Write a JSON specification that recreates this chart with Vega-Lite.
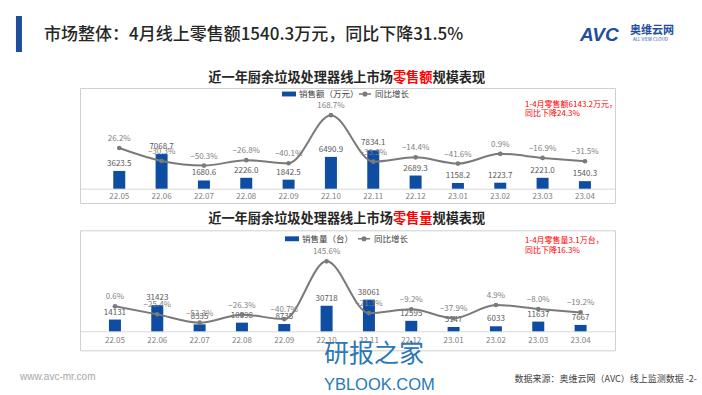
{
  "$schema": "https://vega.github.io/schema/vega-lite/v6.json",
  "background": "white",
  "padding": {"left": 14, "top": 14, "right": 0, "bottom": 0},
  "bounds": "flush",
  "spacing": 27.3,
  "config": {
    "font": "Noto Sans CJK SC",
    "view": {"stroke": "#d0d0d0", "strokeWidth": 1},
    "axis": {"labelFont": "Noto Sans CJK SC", "labelFontSize": 8, "labelColor": "#7f7f7f", "domainColor": "#d9d9d9", "ticks": false, "title": null, "labelAngle": 0, "grid": false},
    "legend": {"labelFont": "Noto Sans CJK SC", "labelFontSize": 8.5, "labelColor": "#404040", "padding": 0, "offset": 0, "title": null, "labelOffset": 3}
  },
  "datasets": {
    "sales": [
      {"month": "22.05", "amount": 3623.5, "yoy": 0.262},
      {"month": "22.06", "amount": 7068.7, "yoy": -0.303},
      {"month": "22.07", "amount": 1680.6, "yoy": -0.503},
      {"month": "22.08", "amount": 2226.0, "yoy": -0.268},
      {"month": "22.09", "amount": 1842.5, "yoy": -0.401},
      {"month": "22.10", "amount": 6490.9, "yoy": 1.687},
      {"month": "22.11", "amount": 7834.1, "yoy": -0.333},
      {"month": "22.12", "amount": 2689.3, "yoy": -0.144},
      {"month": "23.01", "amount": 1158.2, "yoy": -0.416},
      {"month": "23.02", "amount": 1223.7, "yoy": 0.009},
      {"month": "23.03", "amount": 2221.0, "yoy": -0.169},
      {"month": "23.04", "amount": 1540.3, "yoy": -0.315}
    ],
    "volume": [
      {"month": "22.05", "qty": 14131, "yoy": 0.006},
      {"month": "22.06", "qty": 31423, "yoy": -0.254},
      {"month": "22.07", "qty": 8335, "yoy": -0.523},
      {"month": "22.08", "qty": 10398, "yoy": -0.263},
      {"month": "22.09", "qty": 8735, "yoy": -0.407},
      {"month": "22.10", "qty": 30718, "yoy": 1.456},
      {"month": "22.11", "qty": 38061, "yoy": -0.213},
      {"month": "22.12", "qty": 12595, "yoy": -0.092},
      {"month": "23.01", "qty": 5147, "yoy": -0.379},
      {"month": "23.02", "qty": 6033, "yoy": 0.049},
      {"month": "23.03", "qty": 11637, "yoy": -0.080},
      {"month": "23.04", "qty": 7667, "yoy": -0.192}
    ],
    "one": [{"id": 1}]
  },
  "resolve": {
    "scale": {"x": "independent", "y": "independent", "fill": "independent", "stroke": "independent"},
    "legend": {"fill": "independent", "stroke": "independent"}
  },
  "vconcat": [
    {
      "width": 535,
      "height": 115,
      "layer": [
        {
          "layer": [
            {
              "data": {"name": "sales"},
              "mark": {"type": "bar", "size": 12},
              "encoding": {
                "x": {"field": "month", "type": "ordinal", "scale": {"paddingInner": 0, "paddingOuter": 0.319, "align": 0.67}, "axis": {"offset": -14.3, "labelPadding": 4}},
                "y": {"field": "amount", "type": "quantitative", "scale": {"domain": [-2918, 20551], "nice": false, "zero": false}, "axis": null},
                "fill": {"datum": "销售额（万元）", "type": "nominal", "scale": {"range": ["#0e4da1"]},
                  "legend": {"orient": "none", "legendX": 202, "legendY": -1, "symbolType": "M-1,-0.35H1V0.35H-1Z", "symbolSize": 196, "symbolStrokeWidth": 0}}
              }
            },
            {
              "data": {"name": "sales"},
              "mark": {"type": "text", "baseline": "bottom", "dy": -3, "fontSize": 8, "color": "#595959"},
              "encoding": {
                "x": {"field": "month", "type": "ordinal"},
                "y": {"field": "amount", "type": "quantitative"},
                "text": {"field": "amount", "type": "quantitative", "format": ".1f"}
              }
            },
            {
              "data": {"name": "one"},
              "mark": {"type": "rule", "strokeWidth": 6, "strokeCap": "square", "color": "#1f4e9c", "xOffset": -100.3},
              "encoding": {"x": {"datum": "22.05", "type": "ordinal"}, "y": {"datum": 34633, "type": "quantitative"}, "y2": {"datum": 28510}}
            },
            {
              "data": {"name": "one"},
              "mark": {"type": "text", "text": "市场整体：4月线上零售额1540.3万元，同比下降31.5%", "align": "left", "baseline": "middle", "dx": -75.3, "fontSize": 17, "fontWeight": 500, "color": "#262626"},
              "encoding": {"x": {"datum": "22.05", "type": "ordinal"}, "y": {"datum": 31367, "type": "quantitative"}}
            },
            {
              "data": {"name": "one"},
              "mark": {"type": "text", "text": "AVC", "align": "left", "baseline": "middle", "dx": -4.9, "fontSize": 19, "fontWeight": "bold", "fontStyle": "italic", "font": "Liberation Sans", "color": "#1f4e9c"},
              "encoding": {"x": {"datum": "23.04", "type": "ordinal"}, "y": {"datum": 31367, "type": "quantitative"}}
            },
            {
              "data": {"name": "one"},
              "mark": {"type": "text", "text": "奥维云网", "align": "left", "baseline": "middle", "dx": 45, "fontSize": 11, "fontWeight": "bold", "color": "#1f4e9c"},
              "encoding": {"x": {"datum": "23.04", "type": "ordinal"}, "y": {"datum": 32184, "type": "quantitative"}}
            },
            {
              "data": {"name": "one"},
              "mark": {"type": "text", "text": "ALL VIEW CLOUD", "align": "left", "baseline": "middle", "dx": 48, "fontSize": 4.5, "color": "#1f4e9c"},
              "encoding": {"x": {"datum": "23.04", "type": "ordinal"}, "y": {"datum": 30347, "type": "quantitative"}}
            },
            {
              "data": {"name": "one"},
              "mark": {"type": "text", "text": "近一年厨余垃圾处理器线上市场", "align": "right", "baseline": "middle", "dx": -22.7, "fontSize": 13.2, "fontWeight": "bold", "color": "#262626"},
              "encoding": {"x": {"datum": "22.12", "type": "ordinal"}, "y": {"datum": 22592, "type": "quantitative"}}
            },
            {
              "data": {"name": "one"},
              "mark": {"type": "text", "text": "零售额", "align": "center", "baseline": "middle", "dx": -2.9, "fontSize": 13.2, "fontWeight": "bold", "color": "#ff0000"},
              "encoding": {"x": {"datum": "22.12", "type": "ordinal"}, "y": {"datum": 22592, "type": "quantitative"}}
            },
            {
              "data": {"name": "one"},
              "mark": {"type": "text", "text": "规模表现", "align": "left", "baseline": "middle", "dx": 16.9, "fontSize": 13.2, "fontWeight": "bold", "color": "#262626"},
              "encoding": {"x": {"datum": "22.12", "type": "ordinal"}, "y": {"datum": 22592, "type": "quantitative"}}
            },
            {
              "data": {"name": "one"},
              "mark": {"type": "text", "text": ["1-4月零售额6143.2万元，", "同比下降24.3%"], "align": "left", "baseline": "top", "dx": 24.7, "fontSize": 8, "lineHeight": 9.5, "color": "#ff0000"},
              "encoding": {"x": {"datum": "23.02", "type": "ordinal"}, "y": {"datum": 17898, "type": "quantitative"}}
            }
          ]
        },
        {
          "data": {"name": "sales"},
          "encoding": {
            "x": {"field": "month", "type": "ordinal"},
            "y": {"field": "yoy", "type": "quantitative", "scale": {"domain": [-2.13, 2.87], "nice": false, "zero": false}, "axis": null}
          },
          "layer": [
            {
              "mark": {"type": "line", "interpolate": "monotone", "strokeWidth": 2},
              "encoding": {
                "stroke": {"datum": "同比增长", "type": "nominal", "scale": {"range": ["#7a7a7a"]},
                  "legend": {"orient": "none", "legendX": 278, "legendY": -1, "symbolType": "M-1,0H1M-0.3,0A0.3,0.3,0,1,1,0.3,0A0.3,0.3,0,1,1,-0.3,0", "symbolSize": 144, "symbolStrokeWidth": 1.5, "symbolFillColor": "#7a7a7a"}}
              }
            },
            {
              "mark": {"type": "circle", "size": 22, "color": "#7a7a7a", "opacity": 1}
            },
            {
              "mark": {"type": "text", "baseline": "bottom", "dy": -5, "fontSize": 8, "color": "#7f7f7f"},
              "encoding": {"text": {"field": "yoy", "type": "quantitative", "format": ".1%"}}
            }
          ]
        }
      ],
      "resolve": {"scale": {"y": "independent"}}
    },
    {
      "width": 535,
      "height": 120,
      "layer": [
        {
          "layer": [
            {
              "data": {"name": "volume"},
              "mark": {"type": "bar", "size": 12},
              "encoding": {
                "x": {"field": "month", "type": "ordinal", "scale": {"paddingInner": 0, "paddingOuter": 0.319, "align": 0.51}, "axis": {"offset": -19, "labelPadding": 5}},
                "y": {"field": "qty", "type": "quantitative", "scale": {"domain": [-22836, 121394], "nice": false, "zero": false}, "axis": null},
                "fill": {"datum": "销售量（台）", "type": "nominal", "scale": {"range": ["#0e4da1"]},
                  "legend": {"orient": "none", "legendX": 205, "legendY": 1.5, "symbolType": "M-1,-0.35H1V0.35H-1Z", "symbolSize": 196, "symbolStrokeWidth": 0}}
              }
            },
            {
              "data": {"name": "volume"},
              "mark": {"type": "text", "baseline": "bottom", "dy": -3, "fontSize": 8, "color": "#595959"},
              "encoding": {
                "x": {"field": "month", "type": "ordinal"},
                "y": {"field": "qty", "type": "quantitative"},
                "text": {"field": "qty", "type": "quantitative", "format": "d"}
              }
            },
            {
              "data": {"name": "one"},
              "mark": {"type": "text", "text": "近一年厨余垃圾处理器线上市场", "align": "right", "baseline": "middle", "dx": -18.4, "fontSize": 13.2, "fontWeight": "bold", "color": "#262626"},
              "encoding": {"x": {"datum": "22.12", "type": "ordinal"}, "y": {"datum": 135337, "type": "quantitative"}}
            },
            {
              "data": {"name": "one"},
              "mark": {"type": "text", "text": "零售量", "align": "center", "baseline": "middle", "dx": 1.4, "fontSize": 13.2, "fontWeight": "bold", "color": "#ff0000"},
              "encoding": {"x": {"datum": "22.12", "type": "ordinal"}, "y": {"datum": 135337, "type": "quantitative"}}
            },
            {
              "data": {"name": "one"},
              "mark": {"type": "text", "text": "规模表现", "align": "left", "baseline": "middle", "dx": 21.2, "fontSize": 13.2, "fontWeight": "bold", "color": "#262626"},
              "encoding": {"x": {"datum": "22.12", "type": "ordinal"}, "y": {"datum": 135337, "type": "quantitative"}}
            },
            {
              "data": {"name": "one"},
              "mark": {"type": "text", "text": ["1-4月零售量3.1万台，", "同比下降16.3%"], "align": "left", "baseline": "top", "dx": 29, "fontSize": 8, "lineHeight": 9.5, "color": "#ff0000"},
              "encoding": {"x": {"datum": "23.02", "type": "ordinal"}, "y": {"datum": 113341, "type": "quantitative"}}
            },
            {
              "data": {"name": "one"},
              "mark": {"type": "text", "text": "www.avc-mr.com", "align": "left", "baseline": "middle", "dx": -95, "fontSize": 10, "font": "Liberation Sans", "color": "#a6a6a6"},
              "encoding": {"x": {"datum": "22.05", "type": "ordinal"}, "y": {"datum": -55000, "type": "quantitative"}}
            },
            {
              "data": {"name": "one"},
              "mark": {"type": "text", "text": "数据来源：奥维云网（AVC）线上监测数据  -2-", "align": "right", "baseline": "middle", "dx": 116.4, "fontSize": 9, "color": "#404040"},
              "encoding": {"x": {"datum": "23.04", "type": "ordinal"}, "y": {"datum": -57332, "type": "quantitative"}}
            },
            {
              "data": {"name": "one"},
              "mark": {"type": "text", "text": "研报之家", "align": "left", "baseline": "middle", "dx": -2.7, "fontSize": 25, "color": "#2a78b5"},
              "encoding": {"x": {"datum": "22.10", "type": "ordinal"}, "y": {"datum": -27284, "type": "quantitative"}}
            },
            {
              "data": {"name": "one"},
              "mark": {"type": "text", "text": "YBLOOK.COM", "align": "left", "baseline": "middle", "dx": -2.7, "fontSize": 16.5, "font": "Liberation Sans", "color": "#2a78b5"},
              "encoding": {"x": {"datum": "22.10", "type": "ordinal"}, "y": {"datum": -64543, "type": "quantitative"}}
            }
          ]
        },
        {
          "data": {"name": "volume"},
          "encoding": {
            "x": {"field": "month", "type": "ordinal"},
            "y": {"field": "yoy", "type": "quantitative", "scale": {"domain": [-1.413, 2.458], "nice": false, "zero": false}, "axis": null}
          },
          "layer": [
            {
              "mark": {"type": "line", "interpolate": "monotone", "strokeWidth": 2},
              "encoding": {
                "stroke": {"datum": "同比增长", "type": "nominal", "scale": {"range": ["#7a7a7a"]},
                  "legend": {"orient": "none", "legendX": 277, "legendY": 1.5, "symbolType": "M-1,0H1M-0.3,0A0.3,0.3,0,1,1,0.3,0A0.3,0.3,0,1,1,-0.3,0", "symbolSize": 144, "symbolStrokeWidth": 1.5, "symbolFillColor": "#7a7a7a"}}
              }
            },
            {
              "mark": {"type": "circle", "size": 22, "color": "#7a7a7a", "opacity": 1}
            },
            {
              "mark": {"type": "text", "baseline": "bottom", "dy": -5, "fontSize": 8, "color": "#7f7f7f"},
              "encoding": {"text": {"field": "yoy", "type": "quantitative", "format": ".1%"}}
            }
          ]
        }
      ],
      "resolve": {"scale": {"y": "independent"}}
    }
  ]
}
